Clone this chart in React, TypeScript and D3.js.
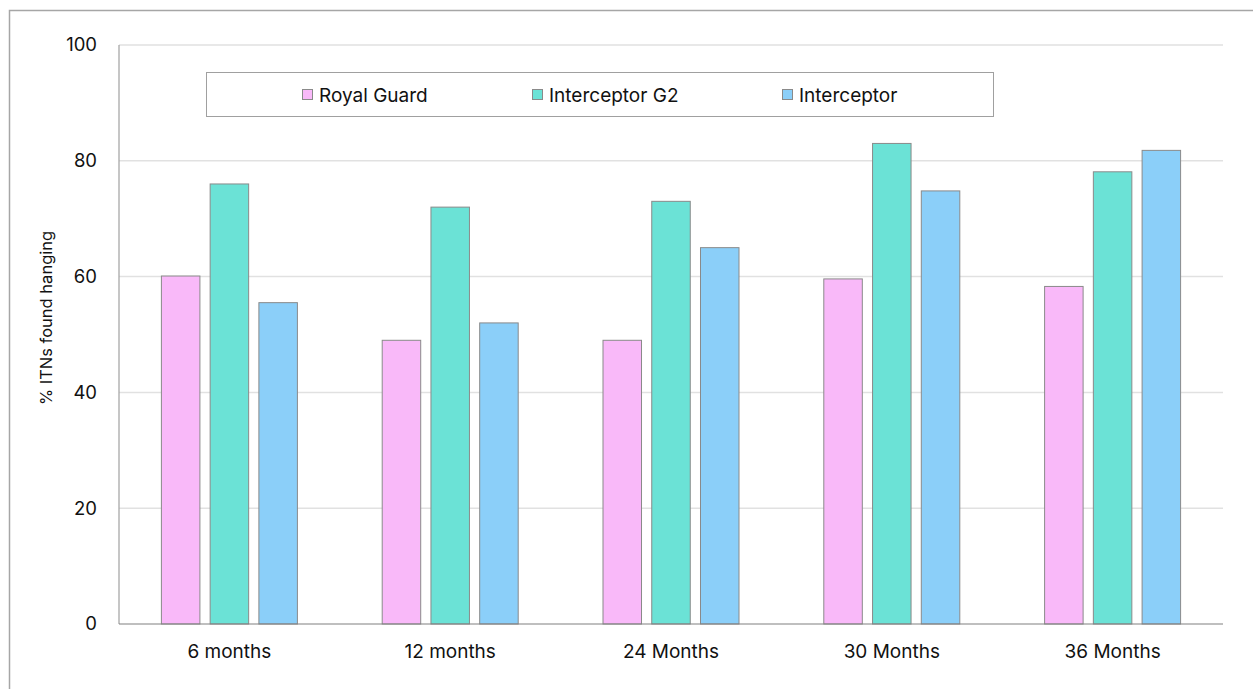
import React, { useEffect, useRef } from "react";
import * as d3 from "d3";

const categories = ["6 months", "12 months", "24 Months", "30 Months", "36 Months"];
const seriesNames = ["Royal Guard", "Interceptor G2", "Interceptor"];
const royalGuard = [60.1, 49.0, 49.0, 59.6, 58.3];
const interceptorG2 = [76.0, 72.0, 73.0, 83.0, 78.1];
const interceptor = [55.5, 52.0, 65.0, 74.8, 81.8];
const yTicks = [0, 20, 40, 60, 80, 100];
const colors = ["#F9B9F9", "#6BE2D6", "#8BCFF9"];

export default function App() {
  const ref = useRef<SVGSVGElement>(null);

  useEffect(() => {
    const svg = d3.select(ref.current);
    svg.selectAll("*").remove();
    const W = 1253, H = 689;
    const margin = { top: 45, right: 30, bottom: 65, left: 119 };
    const w = W - margin.left - margin.right;
    const h = H - margin.top - margin.bottom;
    const font = "Inter, 'Open Sans', sans-serif";

    // outer chart frame
    svg.append("rect").attr("x", 9.5).attr("y", 10.5).attr("width", W).attr("height", H)
      .attr("fill", "#fff").attr("stroke", "#a6a6a6").attr("stroke-width", 1.5);

    const g = svg.append("g").attr("transform", `translate(${margin.left}, ${margin.top})`);

    const groupW = 136;
    const x0 = d3.scaleBand().domain(categories).range([0, w]).padding(0);
    const x1 = d3.scaleBand().domain(seriesNames).range([0, groupW]).paddingInner(0.21).paddingOuter(0);
    const y = d3.scaleLinear().domain([0, 100]).range([h, 0]);

    // grid
    g.selectAll(".grid").data(yTicks.filter(d => d > 0)).join("line").attr("class", "grid")
      .attr("x1", 0).attr("x2", w).attr("y1", d => y(d)).attr("y2", d => y(d))
      .attr("stroke", "#e1e1e1").attr("stroke-width", 1.5);

    g.selectAll(".ytick").data(yTicks).join("text").attr("class", "ytick")
      .attr("x", -22).attr("y", d => y(d)).attr("dy", "0.35em").attr("text-anchor", "end")
      .style("font-family", font).style("font-size", "18.5px").attr("fill", "#111").text(d => d);

    const rows = categories.map((c, i) => ({ c, vals: [royalGuard[i], interceptorG2[i], interceptor[i]] }));
    const grp = g.selectAll(".grp").data(rows).join("g").attr("class", "grp")
      .attr("transform", d => `translate(${x0(d.c)! + x0.bandwidth() / 2 - groupW / 2}, 0)`);
    grp.selectAll("rect").data(d => d.vals.map((v, k) => ({ k, v }))).join("rect")
      .attr("x", d => x1(seriesNames[d.k])!)
      .attr("y", d => y(d.v))
      .attr("width", x1.bandwidth())
      .attr("height", d => h - y(d.v))
      .attr("fill", d => colors[d.k])
      .attr("stroke", "#8a8a8a").attr("stroke-width", 1);

    // axis lines
    g.append("line").attr("x1", 0).attr("x2", 0).attr("y1", 0).attr("y2", h)
      .attr("stroke", "#a0a0a0").attr("stroke-width", 1.2);
    g.append("line").attr("x1", 0).attr("x2", w).attr("y1", h).attr("y2", h)
      .attr("stroke", "#808080").attr("stroke-width", 1.2);

    g.selectAll(".xlab").data(categories).join("text").attr("class", "xlab")
      .attr("x", d => x0(d)! + x0.bandwidth() / 2).attr("y", h + 34).attr("text-anchor", "middle")
      .style("font-family", font).style("font-size", "19px").attr("fill", "#111").text(d => d);

    svg.append("text").attr("transform", `translate(52, 318) rotate(-90)`).attr("text-anchor", "middle")
      .style("font-family", font).style("font-size", "16.5px").attr("fill", "#111")
      .text("% ITNs found hanging");

    // legend
    const lg = svg.append("g");
    lg.append("rect").attr("x", 206.5).attr("y", 72.5).attr("width", 787).attr("height", 44)
      .attr("fill", "#fff").attr("stroke", "#a0a0a0").attr("stroke-width", 1);
    const lx = [302, 532, 782];
    seriesNames.forEach((s, i) => {
      lg.append("rect").attr("x", lx[i] + 0.5).attr("y", 89.5).attr("width", 10).attr("height", 10)
        .attr("fill", colors[i]).attr("stroke", "#8a8a8a");
      lg.append("text").attr("x", lx[i] + 17).attr("y", 95).attr("dy", "0.35em")
        .style("font-family", font).style("font-size", "19px").attr("fill", "#111").text(s);
    });
  }, []);

  return (
    <svg ref={ref} width={1253} height={689}
      style={{ position: "absolute", left: 0, top: 0, background: "#fff" }} />
  );
}
